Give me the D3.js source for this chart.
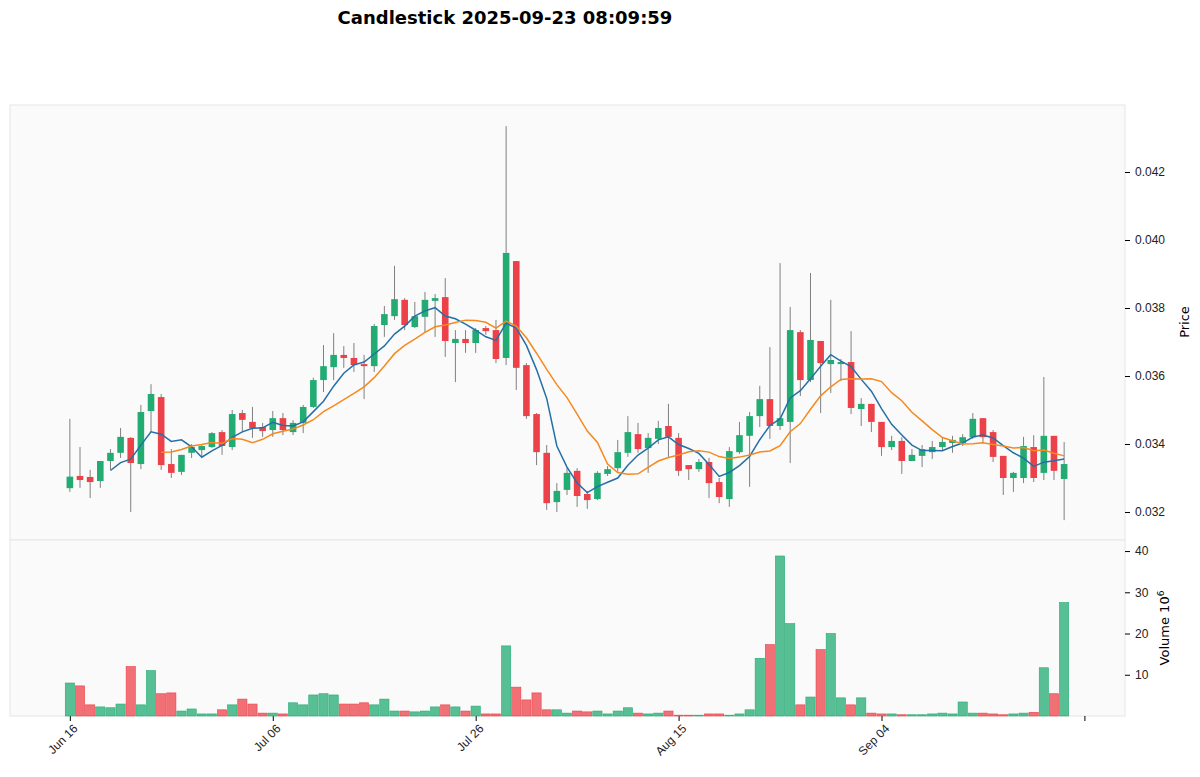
<!DOCTYPE html>
<html>
<head>
<meta charset="utf-8">
<script src="https://cdn.jsdelivr.net/npm/d3@7"></script>
<style>
  body { margin: 0; background: #fff; font-family: "DejaVu Sans", sans-serif; }
</style>
</head>
<body>
<svg id="chart" width="1200" height="777"></svg>
<script>
// daily candles, Jun 16 .. Sep 22 2025 (price in USD)
const startDate = new Date(2025, 5, 16);
const opens = [0.03270,0.03306,0.03303,0.03291,0.03350,0.03374,0.03418,0.03341,0.03497,0.03538,
  0.03341,0.03318,0.03374,0.03382,0.03391,0.03435,0.03391,0.03491,0.03465,0.03450,
  0.03441,0.03476,0.03435,0.03462,0.03509,0.03588,0.03626,0.03662,0.03653,0.03635,
  0.03629,0.03750,0.03776,0.03824,0.03744,0.03774,0.03821,0.03832,0.03697,0.03709,
  0.03697,0.03741,0.03735,0.03653,0.03938,0.03632,0.03488,0.03374,0.03229,0.03265,
  0.03321,0.03253,0.03238,0.03312,0.03329,0.03374,0.03429,0.03388,0.03415,0.03453,
  0.03418,0.03338,0.03326,0.03347,0.03288,0.03238,0.03376,0.03424,0.03482,0.03532,
  0.03453,0.03465,0.03729,0.03588,0.03703,0.03635,0.03635,0.03641,0.03503,0.03518,
  0.03465,0.03391,0.03409,0.03350,0.03365,0.03376,0.03391,0.03403,0.03403,0.03420,
  0.03476,0.03435,0.03365,0.03300,0.03300,0.03391,0.03315,0.03424,0.03297];
const closes = [0.03304,0.03294,0.03288,0.03350,0.03374,0.03421,0.03344,0.03494,0.03547,0.03338,
  0.03315,0.03368,0.03391,0.03394,0.03432,0.03394,0.03488,0.03471,0.03447,0.03438,
  0.03476,0.03441,0.03462,0.03509,0.03588,0.03629,0.03662,0.03653,0.03632,0.03629,
  0.03747,0.03782,0.03826,0.03750,0.03776,0.03824,0.03829,0.03703,0.03709,0.03697,
  0.03735,0.03732,0.03650,0.03962,0.03624,0.03482,0.03376,0.03226,0.03262,0.03315,
  0.03247,0.03235,0.03315,0.03326,0.03376,0.03435,0.03385,0.03418,0.03447,0.03421,
  0.03321,0.03326,0.03347,0.03285,0.03244,0.03379,0.03426,0.03482,0.03532,0.03453,
  0.03476,0.03735,0.03588,0.03706,0.03638,0.03647,0.03641,0.03506,0.03518,0.03465,
  0.03391,0.03409,0.03350,0.03368,0.03385,0.03391,0.03406,0.03412,0.03420,0.03474,
  0.03420,0.03362,0.03300,0.03315,0.03394,0.03300,0.03424,0.03321,0.03341];
const highs = [0.03474,0.03391,0.03324,0.03350,0.03385,0.03447,0.03420,0.03515,0.03576,0.03547,
  0.03385,0.03368,0.03400,0.03400,0.03435,0.03441,0.03500,0.03500,0.03509,0.03462,
  0.03497,0.03491,0.03470,0.03515,0.03595,0.03691,0.03726,0.03688,0.03697,0.03662,
  0.03753,0.03806,0.03924,0.03829,0.03818,0.03847,0.03841,0.03888,0.03735,0.03735,
  0.03741,0.03747,0.03765,0.04335,0.03938,0.03638,0.03491,0.03397,0.03285,0.03330,
  0.03329,0.03262,0.03320,0.03335,0.03412,0.03482,0.03462,0.03432,0.03468,0.03518,
  0.03432,0.03338,0.03356,0.03359,0.03300,0.03391,0.03465,0.03494,0.03571,0.03685,
  0.03932,0.03803,0.03735,0.03903,0.03703,0.03824,0.03650,0.03732,0.03535,0.03518,
  0.03465,0.03424,0.03420,0.03385,0.03397,0.03409,0.03418,0.03424,0.03429,0.03491,
  0.03476,0.03441,0.03365,0.03318,0.03421,0.03426,0.03597,0.03424,0.03406];
const lows = [0.03259,0.03271,0.03241,0.03271,0.03324,0.03359,0.03200,0.03326,0.03435,0.03324,
  0.03300,0.03309,0.03359,0.03362,0.03388,0.03368,0.03382,0.03435,0.03418,0.03421,
  0.03421,0.03426,0.03426,0.03432,0.03506,0.03553,0.03588,0.03624,0.03612,0.03532,
  0.03612,0.03715,0.03765,0.03735,0.03741,0.03729,0.03715,0.03656,0.03582,0.03668,
  0.03668,0.03721,0.03638,0.03632,0.03559,0.03474,0.03338,0.03206,0.03200,0.03250,
  0.03215,0.03209,0.03235,0.03306,0.03318,0.03362,0.03374,0.03315,0.03400,0.03362,
  0.03306,0.03294,0.03318,0.03241,0.03226,0.03215,0.03371,0.03274,0.03450,0.03415,
  0.03441,0.03344,0.03541,0.03582,0.03491,0.03550,0.03585,0.03488,0.03453,0.03435,
  0.03365,0.03382,0.03312,0.03350,0.03332,0.03356,0.03382,0.03374,0.03394,0.03415,
  0.03403,0.03347,0.03250,0.03259,0.03285,0.03288,0.03294,0.03294,0.03176];
// volume in millions
const volumes = [8.0,7.3,2.7,2.2,2.0,2.9,12.0,2.7,11.0,5.4,
  5.6,1.2,1.7,0.5,0.5,1.5,2.7,4.1,2.9,0.7,
  0.7,0.5,3.2,2.7,5.1,5.4,5.1,2.9,2.9,3.2,
  2.7,4.1,1.2,1.2,1.0,1.2,2.2,2.7,2.2,1.2,
  2.4,0.5,0.5,17.0,7.0,3.9,5.6,1.5,1.5,0.7,
  1.2,1.0,1.2,0.5,1.2,2.0,0.7,0.5,0.7,1.2,
  0.2,0.2,0.2,0.5,0.5,0.2,0.5,1.5,14.0,17.3,
  38.8,22.4,2.7,4.6,16.1,20.0,4.4,2.7,4.4,0.7,
  0.5,0.5,0.3,0.3,0.3,0.5,0.7,0.5,3.4,0.7,
  0.7,0.5,0.3,0.5,0.7,0.9,11.7,5.4,27.5];
const priceTicks = [0.032,0.034,0.036,0.038,0.040,0.042];
const volumeTicks = [10,20,30,40];
const xTickIdx = [0,20,40,60,80,100];
const mavPeriods = [5,10];

const up = "#22ab72", down = "#ec4148";
const svg = d3.select("#chart");
const left = 10, right = 1125, pTop = 105, pBot = 540, vBot = 716;

const x = d3.scaleLinear().domain([-5.9, 104]).range([left, right]);
const y = d3.scaleLinear().domain([0.031176, 0.043971]).range([pBot, pTop]);
const yv = d3.scaleLinear().domain([0, 42.68]).range([vBot, pBot]);
const fmtDate = d3.timeFormat("%b %d");
const dateOf = i => d3.timeDay.offset(startDate, i);

// panels
svg.append("rect").attr("x", left).attr("y", pTop).attr("width", right - left).attr("height", pBot - pTop)
  .attr("fill", "#fafafa").attr("stroke", "#e6e6e6");
svg.append("rect").attr("x", left).attr("y", pBot).attr("width", right - left).attr("height", vBot - pBot)
  .attr("fill", "#fafafa").attr("stroke", "#e6e6e6");

svg.append("text").attr("x", 505).attr("y", 24).attr("text-anchor", "middle")
  .attr("font-size", 18).attr("font-weight", "bold").text("Candlestick 2025-09-23 08:09:59");

// axes
const yAxis = d3.axisRight(y).tickValues(priceTicks).tickFormat(d3.format(".3f")).tickSize(5).tickPadding(5);
svg.append("g").attr("transform", `translate(${right},0)`).call(yAxis)
  .call(g => g.select(".domain").remove())
  .call(g => g.selectAll("text").attr("font-size", 12).attr("fill", "#222"));
const vAxis = d3.axisRight(yv).tickValues(volumeTicks).tickSize(5).tickPadding(5);
svg.append("g").attr("transform", `translate(${right},0)`).call(vAxis)
  .call(g => g.select(".domain").remove())
  .call(g => g.selectAll("text").attr("font-size", 12).attr("fill", "#222"));
const xAxis = d3.axisBottom(x).tickValues(xTickIdx).tickSize(5)
  .tickFormat(i => i <= 80 ? fmtDate(dateOf(i)) : "");
svg.append("g").attr("transform", `translate(0,${vBot})`).call(xAxis)
  .call(g => g.select(".domain").remove())
  .call(g => g.selectAll("text").attr("font-size", 12).attr("fill", "#222")
    .attr("text-anchor", "end").attr("transform", "rotate(-45)").attr("dx", "-0.3em").attr("dy", "0.6em"));

svg.append("text").attr("transform", "translate(1189,322) rotate(-90)").attr("text-anchor", "middle")
  .attr("font-size", 13).text("Price");
const vl = svg.append("text").attr("transform", "translate(1169,628) rotate(-90)").attr("text-anchor", "middle")
  .attr("font-size", 13);
vl.append("tspan").text("Volume  10");
vl.append("tspan").attr("font-size", 9).attr("dy", "-0.6em").text("6");

const data = opens.map((o, i) => ({ i, o, c: closes[i], h: highs[i], l: lows[i], v: volumes[i] }));
const col = d => d.c >= d.o ? up : down;

// volume bars
svg.append("g").selectAll("rect").data(data).join("rect")
  .attr("x", d => x(d.i) - 4.6).attr("width", 9.2)
  .attr("y", d => yv(d.v)).attr("height", d => vBot - yv(d.v))
  .attr("fill", col).attr("fill-opacity", 0.75).attr("stroke", col).attr("stroke-width", 0.6);

// wicks & bodies
svg.append("g").selectAll("line").data(data).join("line")
  .attr("x1", d => x(d.i)).attr("x2", d => x(d.i))
  .attr("y1", d => y(d.h)).attr("y2", d => y(d.l))
  .attr("stroke", "#808080").attr("stroke-width", 1);
svg.append("g").selectAll("rect").data(data).join("rect")
  .attr("x", d => x(d.i) - 3.3).attr("width", 6.6)
  .attr("y", d => y(Math.max(d.o, d.c)))
  .attr("height", d => Math.max(1.5, Math.abs(y(d.o) - y(d.c))))
  .attr("fill", col);

// moving averages
const mavColors = ["#2470a6", "#f5891f"];
mavPeriods.forEach((p, k) => {
  const pts = data.slice(p - 1).map(d => [d.i, d3.mean(closes.slice(d.i - p + 1, d.i + 1))]);
  svg.append("path").datum(pts)
    .attr("d", d3.line().x(d => x(d[0])).y(d => y(d[1])))
    .attr("fill", "none").attr("stroke", mavColors[k]).attr("stroke-width", 1.5);
});
</script>
</body>
</html>
